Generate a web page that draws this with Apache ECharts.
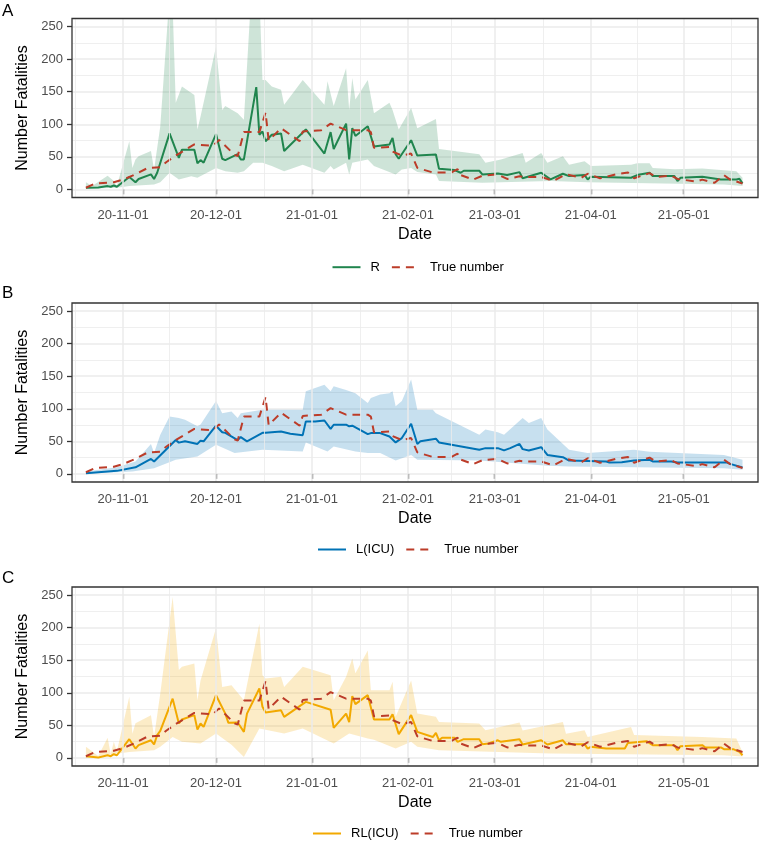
<!DOCTYPE html>
<html><head><meta charset="utf-8">
<script src="https://cdn.jsdelivr.net/npm/echarts@6/dist/echarts.min.js"></script>
<style>html,body{margin:0;padding:0;background:#fff}#c{width:762px;height:845px}</style>
</head><body><div id="c"></div>
<script>
// ---------- data ----------
const trueNumber = [
['2020-10-20',2.5],['2020-10-23',9],['2020-10-29',11],['2020-11-01',15],['2020-11-04',21],['2020-11-09',33],
['2020-11-13',34],['2020-11-15',42],['2020-11-18',52],['2020-11-24',69],['2020-11-30',67],['2020-12-02',76],
['2020-12-07',53],['2020-12-08',51],['2020-12-10',88],['2020-12-15',88],['2020-12-17',118],['2020-12-18',75],
['2020-12-22',94],['2020-12-28',74],['2020-12-29',89],['2021-01-04',91],['2021-01-07',101],['2021-01-12',91],
['2021-01-19',91],['2021-01-20',88],['2021-01-21',64],['2021-01-26',65],['2021-01-27',58],['2021-01-30',52],
['2021-02-02',55],['2021-02-04',33],['2021-02-09',26],['2021-02-15',26],['2021-02-17',31],['2021-02-18',22],
['2021-02-22',15],['2021-02-25',21],['2021-03-02',23],['2021-03-05',16],['2021-03-09',20],['2021-03-11',19],
['2021-03-16',19],['2021-03-20',13],['2021-03-24',23],['2021-03-29',18],['2021-03-31',24],['2021-04-04',17],
['2021-04-09',23],['2021-04-13',26],['2021-04-15',17],['2021-04-20',25],['2021-04-22',19],['2021-04-27',21],
['2021-04-29',16],['2021-05-05',12],['2021-05-07',15],['2021-05-11',10],['2021-05-14',22],['2021-05-16',15],
['2021-05-20',9]
];

const rLine = [
['2020-10-20',2.5],['2020-10-24',3],['2020-10-27',5],['2020-10-28',4],['2020-10-29',6],['2020-10-30',4],
['2020-11-03',19],['2020-11-05',11],['2020-11-06',16],['2020-11-10',23],['2020-11-11',16],['2020-11-12',25.5],
['2020-11-16',86],['2020-11-19',48.5],['2020-11-20',61],['2020-11-24',61],['2020-11-25',40],['2020-11-26',45],
['2020-11-27',41],['2020-12-01',85],['2020-12-03',47],['2020-12-04',45],['2020-12-08',54],['2020-12-09',46],
['2020-12-10',46],['2020-12-14',157],['2020-12-15',84],['2020-12-16',89],['2020-12-17',74],['2020-12-19',84],
['2020-12-22',86],['2020-12-23',59],['2020-12-30',92],['2021-01-05',55],['2021-01-07',88],['2021-01-08',62],
['2021-01-12',101],['2021-01-13',46],['2021-01-14',94],['2021-01-15',82],['2021-01-19',97],['2021-01-21',66],
['2021-01-26',69],['2021-01-27',79],['2021-01-28',54],['2021-01-29',47],['2021-02-02',75.5],['2021-02-04',52],
['2021-02-10',53.6],['2021-02-11',31.6],['2021-02-16',29.6],['2021-02-18',25.5],['2021-02-19',28.6],['2021-02-24',28.6],
['2021-02-25',23],['2021-03-02',24.5],['2021-03-05',22],['2021-03-09',26.5],['2021-03-10',17],['2021-03-16',25.5],
['2021-03-19',15.3],['2021-03-23',24],['2021-03-25',20.4],['2021-03-30',22],['2021-03-31',15.3],['2021-04-01',19.4],
['2021-04-14',17.9],['2021-04-16',22],['2021-04-20',25.5],['2021-04-21',20.4],['2021-04-28',20.4],['2021-04-29',12.8],
['2021-04-30',17.9],['2021-05-07',19.4],['2021-05-13',15.3],['2021-05-18',15.3],['2021-05-19',16.3],['2021-05-20',9.2]
];
const rUpper = [
['2020-10-20',11],['2020-10-22',5],['2020-10-27',21],['2020-10-29',13],['2020-10-30',5],['2020-11-03',74],
['2020-11-04',33],['2020-11-05',46],['2020-11-06',51],['2020-11-10',59],['2020-11-11',30],['2020-11-13',97],
['2020-11-16',300],['2020-11-17',280],['2020-11-18',133],['2020-11-20',158],['2020-11-24',145],['2020-11-25',92],
['2020-11-26',112],['2020-12-01',219],['2020-12-03',122],['2020-12-04',128],['2020-12-08',117],['2020-12-10',107],
['2020-12-12',270],['2020-12-13',300],['2020-12-15',300],['2020-12-16',168],['2020-12-17',168],['2020-12-19',158],
['2020-12-22',153],['2020-12-23',130],['2020-12-29',168],['2021-01-05',130],['2021-01-06',166],['2021-01-08',128],
['2021-01-12',186],['2021-01-13',122],['2021-01-14',171],['2021-01-15',138],['2021-01-19',168],['2021-01-21',117],
['2021-01-26',133],['2021-01-27',122],['2021-01-29',92],['2021-02-02',125],['2021-02-04',94],['2021-02-10',108],
['2021-02-11',62],['2021-02-16',59],['2021-02-24',54],['2021-02-26',41],['2021-03-03',46],['2021-03-10',56],
['2021-03-11',41],['2021-03-16',56],['2021-03-18',41],['2021-03-23',51],['2021-03-25',38],['2021-03-30',43],
['2021-04-01',36],['2021-04-14',38],['2021-04-16',40],['2021-04-20',40],['2021-04-21',33],['2021-04-28',31],
['2021-05-07',32],['2021-05-18',28],['2021-05-20',18]
];
const rLower = [
['2020-10-20',1],['2020-10-30',2.5],['2020-11-03',5],['2020-11-11',7.6],['2020-11-13',11],['2020-11-16',25.5],
['2020-11-19',15],['2020-11-23',20],['2020-11-25',18],['2020-12-01',33],['2020-12-04',28],['2020-12-08',25.5],
['2020-12-10',28],['2020-12-13',41],['2020-12-16',41],['2020-12-19',36],['2020-12-23',28],['2020-12-29',38],
['2021-01-05',25.5],['2021-01-07',36],['2021-01-08',30.6],['2021-01-12',41],['2021-01-13',23],['2021-01-14',41],
['2021-01-19',46],['2021-01-21',36],['2021-01-28',23],['2021-01-30',30.6],['2021-02-02',33],['2021-02-04',26.5],
['2021-02-10',23],['2021-02-11',12.8],['2021-02-25',10],['2021-03-19',12.8],['2021-03-31',11],['2021-05-14',7.6],
['2021-05-20',5]
];

const lLine = [
['2020-10-20',1],['2020-10-30',4.6],['2020-11-05',10],['2020-11-10',23],['2020-11-11',19],['2020-11-18',52],
['2020-11-19',48],['2020-11-21',50],['2020-11-25',46],['2020-11-26',51],['2020-11-27',50],['2020-12-01',74],
['2020-12-03',64],['2020-12-04',63],['2020-12-08',52],['2020-12-09',56.5],['2020-12-11',50],['2020-12-16',63],
['2020-12-17',63],['2020-12-22',65],['2020-12-25',61.6],['2020-12-29',59.5],['2020-12-30',80.6],['2021-01-02',80.6],
['2021-01-05',82],['2021-01-07',69],['2021-01-08',75.5],['2021-01-12',75.5],['2021-01-13',73],['2021-01-14',74],
['2021-01-19',61],['2021-01-20',62.6],['2021-01-23',62.6],['2021-01-26',57.5],['2021-01-28',48.3],['2021-01-30',55],
['2021-02-02',77],['2021-02-04',46],['2021-02-05',50],['2021-02-10',54],['2021-02-11',48.3],['2021-02-24',37],
['2021-02-26',39.5],['2021-03-02',39.5],['2021-03-04',36],['2021-03-06',39.5],['2021-03-09',46],['2021-03-10',38],
['2021-03-12',36],['2021-03-16',41],['2021-03-18',29],['2021-03-23',25.7],['2021-03-25',20.5],['2021-04-06',19],
['2021-04-07',17.5],['2021-04-11',18],['2021-04-15',20.5],['2021-04-20',21.6],['2021-04-21',19],['2021-04-27',19],
['2021-04-29',17.5],['2021-05-15',17.5],['2021-05-16',15.4],['2021-05-20',9.8]
];
const lUpper = [
['2020-10-20',3.6],['2020-10-30',10],['2020-11-05',19],['2020-11-10',46],['2020-11-11',32],['2020-11-13',60],
['2020-11-16',88],['2020-11-19',86],['2020-11-21',83],['2020-11-25',73],['2020-11-26',76],['2020-12-01',112],
['2020-12-03',93],['2020-12-06',96],['2020-12-08',86],['2020-12-09',93],['2020-12-16',98.5],['2020-12-29',98.5],
['2020-12-30',127],['2021-01-05',137],['2021-01-07',127],['2021-01-08',134.5],['2021-01-12',129],['2021-01-15',124],
['2021-01-19',109],['2021-01-20',116.5],['2021-01-23',122],['2021-01-26',124],['2021-01-27',127],['2021-01-28',104],
['2021-01-30',112],['2021-02-02',145],['2021-02-04',98.5],['2021-02-09',98.5],['2021-02-10',93],['2021-02-24',60],
['2021-02-26',68],['2021-03-02',64],['2021-03-04',60],['2021-03-10',86],['2021-03-12',78],['2021-03-16',86],
['2021-03-18',68],['2021-03-25',37],['2021-03-31',32],['2021-04-15',37],['2021-04-20',34],['2021-05-14',29],
['2021-05-20',21.5]
];
const lLower = [
['2020-10-20',0],['2020-11-04',3.6],['2020-11-11',8.7],['2020-11-18',21.6],['2020-11-25',26.7],['2020-12-01',44.7],
['2020-12-07',32],['2020-12-16',37],['2020-12-29',34.4],['2020-12-30',48.3],['2021-01-06',34.4],['2021-01-08',42],
['2021-01-15',34.4],['2021-01-19',32],['2021-01-23',32],['2021-01-28',20.5],['2021-02-02',29],['2021-02-04',21.6],
['2021-02-24',20.5],['2021-03-18',12.3],['2021-03-25',11.3],['2021-05-14',8.7],['2021-05-20',6.2]
];

const rlLine = [
['2020-10-20',2.6],['2020-10-24',0.5],['2020-10-27',4],['2020-10-28',2.6],['2020-10-29',5.6],['2020-10-30',4],
['2020-11-03',28.7],['2020-11-05',14.3],['2020-11-06',19.5],['2020-11-10',27],['2020-11-11',20.5],['2020-11-12',35],
['2020-11-13',41.5],['2020-11-17',91],['2020-11-19',52.8],['2020-11-20',59],['2020-11-24',65.6],['2020-11-25',43.5],
['2020-11-26',52.8],['2020-11-27',47.6],['2020-12-01',96.3],['2020-12-04',68],['2020-12-05',53.8],['2020-12-08',54.3],
['2020-12-10',40],['2020-12-11',68],['2020-12-15',106.6],['2020-12-16',78.4],['2020-12-17',69.7],['2020-12-22',73],
['2020-12-23',63],['2020-12-30',86],['2021-01-07',74],['2021-01-08',46],['2021-01-12',68],['2021-01-13',55],
['2021-01-14',94.8],['2021-01-15',82.5],['2021-01-19',96.3],['2021-01-21',59],['2021-01-26',59],['2021-01-27',67],
['2021-01-29',36.4],['2021-02-02',65.6],['2021-02-04',40],['2021-02-09',32],['2021-02-10',38.4],['2021-02-11',27],
['2021-02-12',31],['2021-02-16',31],['2021-02-17',24.6],['2021-02-19',28.7],['2021-02-24',28.7],['2021-02-25',21],
['2021-02-27',22],['2021-03-02',27],['2021-03-03',24.6],['2021-03-09',28.7],['2021-03-10',20.5],['2021-03-16',27],
['2021-03-18',20.5],['2021-03-23',27],['2021-03-24',21],['2021-03-30',21],['2021-03-31',14.3],['2021-04-01',17],
['2021-04-06',14.3],['2021-04-12',14.3],['2021-04-13',23],['2021-04-19',25.6],['2021-04-21',19.5],['2021-04-28',19.5],
['2021-04-29',11.8],['2021-04-30',18],['2021-05-07',19.5],['2021-05-08',16],['2021-05-13',16],['2021-05-14',13.3],
['2021-05-17',13.3],['2021-05-19',9.2],['2021-05-20',4]
];
const rlUpper = [
['2020-10-20',17],['2020-10-24',3],['2020-10-27',31],['2020-10-28',6],['2020-10-29',24.6],['2020-10-30',10],
['2020-11-03',94],['2020-11-04',37],['2020-11-05',53],['2020-11-10',65.6],['2020-11-11',32],['2020-11-13',99],
['2020-11-17',247],['2020-11-19',135],['2020-11-20',140],['2020-11-24',145],['2020-11-25',88.6],['2020-11-26',119],
['2020-12-01',199],['2020-12-03',109],['2020-12-06',111.7],['2020-12-10',88.6],['2020-12-15',206],['2020-12-16',127],
['2020-12-17',122],['2020-12-22',124.5],['2020-12-23',109],['2020-12-29',140],['2021-01-07',127],['2021-01-08',88.6],
['2021-01-12',124.5],['2021-01-14',152.7],['2021-01-15',130],['2021-01-19',165],['2021-01-20',104],['2021-01-26',104],
['2021-01-27',117],['2021-01-28',63],['2021-02-02',119],['2021-02-04',68],['2021-02-10',63],['2021-02-11',55],
['2021-02-24',52.8],['2021-02-26',42.5],['2021-03-09',54.3],['2021-03-10',42],['2021-03-23',55],['2021-03-24',37],
['2021-03-30',42.5],['2021-03-31',32],['2021-04-14',47.6],['2021-04-15',35],['2021-05-07',32],['2021-05-18',29.7],
['2021-05-20',9]
];
const rlLower = [
['2020-10-20',0],['2020-11-03',9],['2020-11-11',11.8],['2020-11-13',17],['2020-11-17',32],['2020-11-20',24.6],
['2020-11-26',22],['2020-12-01',37.4],['2020-12-06',20],['2020-12-10',1.5],['2020-12-15',45],['2020-12-23',37.4],
['2020-12-29',45],['2021-01-08',22],['2021-01-13',37.4],['2021-01-19',29.7],['2021-01-21',28],['2021-01-28',14.3],
['2021-02-02',24.6],['2021-02-04',17],['2021-02-11',11.8],['2021-03-19',6.7],['2021-05-14',4],['2021-05-20',2]
];

const dateTicks = ['2020-11-01','2020-12-01','2021-01-01','2021-02-01','2021-03-01','2021-04-01','2021-05-01'];
const minorDates = ['2020-10-16 12:00','2020-11-16','2020-12-16 12:00','2021-01-16 12:00','2021-02-15','2021-03-16 12:00','2021-04-16','2021-05-16 12:00'];
const xRange = ['2020-10-15 12:00','2021-05-25'];
const panelTags = ['A','B','C'];
const modelNames = ['R','L(ICU)','RL(ICU)'];

// ---------- styling / layout ----------
const FONT = 'Liberation Sans, Arial, sans-serif';
const lineColors = ['#20854E','#0072B5','#F2A900'];
const ribbonFills = ['rgba(32,133,78,0.22)','rgba(0,114,181,0.22)','rgba(242,169,0,0.22)'];
const trueColor = '#BC3C29';
const TOPS = [18.5, 303, 587];
const H = 179;
const LEFT = 72, RIGHT = 4;
const legendLeft = [331.5, 317, 312];
const legendTop = [260.7, 543, 827];
const tagTop = [3, 284.5, 569.5];

const toTime = s => +echarts.number.parseDate(s);
const asTime = arr => arr.map(p => [toTime(p[0]), p[1]]);
const models = [
  {line: rLine, upper: rUpper, lower: rLower},
  {line: lLine, upper: lUpper, lower: lLower},
  {line: rlLine, upper: rlUpper, lower: rlLower}
];

const grid = [], xAxis = [], yAxis = [], series = [], legend = [], graphic = [];
for (let i = 0; i < 3; i++) {
  grid.push({left: LEFT, right: RIGHT, top: TOPS[i], height: H, show: true, borderColor: '#333333', borderWidth: 1.3, backgroundColor: 'transparent', z: 10, outerBoundsMode: 'none', containLabel: false});
}
for (let i = 0; i < 3; i++) {
  grid.push({left: LEFT, right: RIGHT, top: TOPS[i] + H / 22, height: H * 20 / 22, show: false, outerBoundsMode: 'none', containLabel: false});
}
const tickVals = dateTicks.map(toTime);
for (let i = 0; i < 3; i++) {
  xAxis.push({
    type: 'value', gridIndex: i, min: toTime(xRange[0]), max: toTime(xRange[1]), scale: true,
    axisLine: {show: false},
    axisTick: {show: true, length: 5, lineStyle: {color: '#333333', width: 1.3}, customValues: tickVals},
    axisLabel: {color: '#4D4D4D', fontSize: 13, fontFamily: FONT, margin: 11, customValues: tickVals,
      formatter: v => echarts.time.format(v, '{yy}-{MM}-{dd}', false)},
    splitLine: {show: false},
    name: 'Date', nameLocation: 'middle', nameGap: 29,
    nameTextStyle: {fontSize: 16, color: '#000', fontFamily: FONT}
  });
}
for (let i = 0; i < 3; i++) {
  xAxis.push({type: 'value', gridIndex: 3 + i, min: 0, max: 1, show: false});
}
for (let i = 0; i < 3; i++) {
  yAxis.push({type: 'value', gridIndex: i, min: -12.5, max: 262.5, show: false, splitLine: {show: false}});
}
for (let i = 0; i < 3; i++) {
  yAxis.push({
    type: 'value', gridIndex: 3 + i, min: 0, max: 250, interval: 50,
    axisLine: {show: false},
    axisTick: {show: true, length: 5, lineStyle: {color: '#333333', width: 1.3}},
    axisLabel: {color: '#4D4D4D', fontSize: 13, fontFamily: FONT, margin: 9},
    splitLine: {show: true, lineStyle: {color: '#EBEBEB', width: 1.5}},
    minorTick: {show: false, splitNumber: 2},
    minorSplitLine: {show: true, lineStyle: {color: '#EBEBEB', width: 0.8}},
    name: 'Number Fatalities', nameLocation: 'middle', nameGap: 34, nameRotate: 90,
    nameTextStyle: {fontSize: 16, color: '#000', fontFamily: FONT}
  });
}

for (let i = 0; i < 3; i++) {
  const m = models[i];
  series.push({
    type: 'line', name: '_grid' + i, xAxisIndex: i, yAxisIndex: i, data: [], z: 1, silent: true,
    markLine: {
      silent: true, symbol: ['none', 'none'], label: {show: false}, animation: false,
      data: dateTicks.map(d => ({xAxis: toTime(d), lineStyle: {color: '#EBEBEB', width: 1.5, type: 'solid'}}))
        .concat(minorDates.map(d => ({xAxis: toTime(d), lineStyle: {color: '#EBEBEB', width: 0.8, type: 'solid'}})))
    }
  });
  const pts = asTime(m.upper.concat(m.lower.slice().reverse()));
  const fill = ribbonFills[i];
  series.push({
    type: 'custom', name: '_ribbon' + i, xAxisIndex: i, yAxisIndex: i, z: 2, silent: true,
    data: pts, encode: {x: 0, y: 1},
    renderItem: function (params, api) {
      if (params.dataIndex !== 0) return;
      const poly = pts.map(p => api.coord(p));
      const cs = params.coordSys;
      return {
        type: 'polygon', shape: {points: poly}, style: {fill: fill},
        clipPath: {type: 'rect', shape: {x: cs.x, y: cs.y, width: cs.width, height: cs.height}}
      };
    }
  });
  series.push({
    type: 'line', name: modelNames[i], xAxisIndex: i, yAxisIndex: i, z: 3,
    data: asTime(m.line), symbol: 'none', showSymbol: false,
    lineStyle: {color: lineColors[i], width: 2}, itemStyle: {color: lineColors[i]}
  });
  series.push({
    type: 'line', name: 'True number', xAxisIndex: i, yAxisIndex: i, z: 4,
    data: asTime(trueNumber), symbol: 'none', showSymbol: false,
    lineStyle: {color: trueColor, width: 2, type: [8, 6]}, itemStyle: {color: trueColor}
  });
  legend.push({
    data: [modelNames[i], 'True number'], left: legendLeft[i], top: legendTop[i], orient: 'horizontal',
    padding: 0, itemWidth: 28, itemHeight: 14, itemGap: 11, selectedMode: false,
    itemStyle: {opacity: 0, borderWidth: 0},
    textStyle: {fontSize: 13, color: '#000', fontFamily: FONT, padding: [0, 0, 0, 5]}
  });
  graphic.push({type: 'text', left: 2, top: tagTop[i], style: {text: panelTags[i], font: '17px ' + FONT, fill: '#000'}});
}

const chart = echarts.init(document.getElementById('c'), null, {renderer: 'canvas'});
chart.setOption({
  backgroundColor: '#fff', animation: false,
  textStyle: {fontFamily: FONT},
  grid, xAxis, yAxis, series, legend, graphic
});
</script></body></html>
